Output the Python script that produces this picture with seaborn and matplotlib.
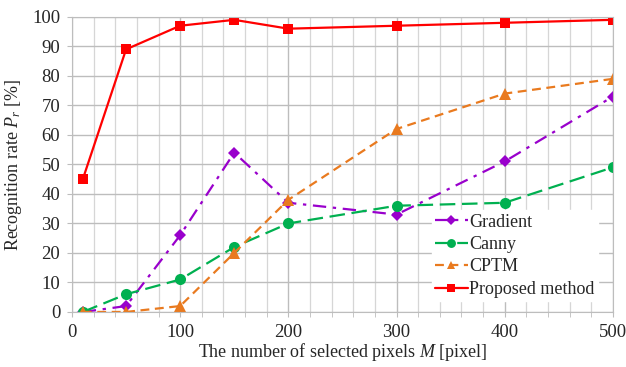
import pandas as pd
import numpy as np
import matplotlib
matplotlib.use("Agg")
import matplotlib.pyplot as plt
import seaborn as sns
from matplotlib.ticker import MultipleLocator

# Data
pixels = [10, 50, 100, 150, 200, 300, 400, 500]
gradient = [0, 2, 26, 54, 37, 33, 51, 73]
canny = [0, 6, 11, 22, 30, 36, 37, 49]
cptm = [0, 0, 2, 20, 38, 62, 74, 79]
proposed = [45, 89, 97, 99, 96, 97, 98, 99]
methods = ["Gradient", "Canny", "CPTM", "Proposed method"]

sns.set_style("white")
plt.rcParams['font.family'] = ['Liberation Serif', 'DejaVu Serif']
plt.rcParams['mathtext.fontset'] = 'custom'
plt.rcParams['mathtext.rm'] = 'Liberation Serif'
plt.rcParams['mathtext.it'] = 'Liberation Serif:italic'

df = pd.DataFrame({
    'pixels': pixels * 4,
    'rate': gradient + canny + cptm + proposed,
    'method': np.repeat(methods, len(pixels)),
})

styles = {
    "Gradient": dict(color="#9900CC", marker="D", markersize=6, dashes=(6, 3, 1.5, 3)),
    "Canny": dict(color="#00B050", marker="o", markersize=8, dashes=(7, 3)),
    "CPTM": dict(color="#E97A1F", marker="^", markersize=8, dashes=(4, 2.5)),
    "Proposed method": dict(color="#FF0000", marker="s", markersize=6.5, dashes=None),
}

fig = plt.figure(figsize=(6.26, 3.67), dpi=100)
ax = fig.add_axes([0.115, 0.150, 0.864, 0.804])

for m in methods:
    st = styles[m]
    sub = df[df['method'] == m]
    sns.lineplot(data=sub, x='pixels', y='rate', ax=ax, color=st['color'],
                 marker=st['marker'], markersize=st['markersize'],
                 markeredgewidth=0, linewidth=1.6, label=m)
    ln = ax.lines[-1]
    if st['dashes'] is not None:
        ln.set_dashes(st['dashes'])

ax.set_xlim(0, 500)
ax.set_ylim(0, 100)
ax.xaxis.set_major_locator(MultipleLocator(100))
ax.xaxis.set_minor_locator(MultipleLocator(20))
ax.yaxis.set_major_locator(MultipleLocator(10))
ax.grid(which='major', color='#BDBDBD', linewidth=1.0)
ax.grid(which='minor', axis='x', color='#D6D6D6', linewidth=0.9)
ax.set_axisbelow(True)
for s in ax.spines.values():
    s.set_color('#BDBDBD')
ax.tick_params(axis='both', which='both', length=3.5, color='#BDBDBD',
               direction='out', bottom=True, left=True, labelsize=13.5)
ax.tick_params(axis='x', which='major', pad=5)
ax.tick_params(axis='y', pad=5)

ax.set_xlabel("The number of selected pixels $M$ [pixel]", fontsize=13, labelpad=0)
ax.set_ylabel("Recognition rate $P_r$ [%]", fontsize=13, labelpad=6)

leg = ax.legend(loc='lower right', fontsize=13, frameon=True, framealpha=1,
                edgecolor='white', fancybox=False, handlelength=1.8,
                handletextpad=0.1, borderpad=0.2, labelspacing=0.3,
                markerscale=0.8, bbox_to_anchor=(0.99, 0.005))
for h in leg.get_lines():
    h.set_linewidth(1.6)

fig.savefig("out.png", dpi=100)
